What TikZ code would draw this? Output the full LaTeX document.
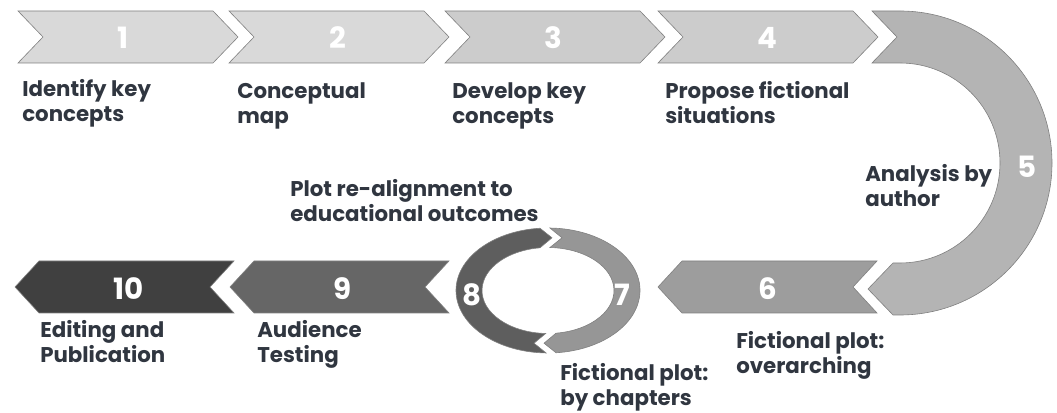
\documentclass[tikz,border=0pt]{standalone}
\usepackage{fontspec}
\setmainfont{Poppins}
\usetikzlibrary{calc}

\definecolor{stepA}{RGB}{217, 217, 217}
\definecolor{stepB}{RGB}{204, 204, 204}
\definecolor{stepC}{RGB}{180, 180, 180}
\definecolor{stepD}{RGB}{157, 157, 157}
\definecolor{stepE}{RGB}{150, 150, 150}
\definecolor{stepF}{RGB}{94, 94, 94}
\definecolor{stepG}{RGB}{102, 102, 102}
\definecolor{stepH}{RGB}{64, 64, 64}
\definecolor{edgegray}{RGB}{128, 128, 128}
\definecolor{labelink}{RGB}{48, 54, 64}

\tikzset{
  chev/.style={draw=edgegray, line width=0.45pt, line join=miter},
  stepnum/.style={font=\fontsize{22}{22}\selectfont\bfseries, text=white, inner sep=0pt},
  % anchored on the baseline of the second line
  steplbl/.style={font=\fontsize{16}{18.75}\selectfont\bfseries, text=labelink,
    align=left, anchor=base west, inner sep=0pt}
}

\begin{document}
\begin{tikzpicture}[x=0.75pt, y=0.75pt]
  \useasboundingbox (0,0) rectangle (1057,413);

  % Top row, pointing right
  \draw[chev, fill=stepA] (18,402) -- (213,402) -- (238,376) -- (213,350) -- (18,350) -- (43,376) -- cycle;
  \draw[chev, fill=stepA] (229,402) -- (424,402) -- (449,376) -- (424,350) -- (229,350) -- (254,376) -- cycle;
  \draw[chev, fill=stepB] (445,402) -- (640,402) -- (665,376) -- (640,350) -- (445,350) -- (470,376) -- cycle;
  \draw[chev, fill=stepB] (658,402) -- (853,402) -- (878,376) -- (853,350) -- (658,350) -- (683,376) -- cycle;

  % Turn at the right end
  \draw[chev, fill=stepC] (872,402) -- (900,402) arc[start angle=90, end angle=-90, radius=152]
    -- (893,98) -- (868,124) -- (893,150) -- (900,150) arc[start angle=-90, end angle=90, radius=100]
    -- (872,350) -- (897,376) -- cycle;

  % Bottom row, pointing left
  \draw[chev, fill=stepD] (658,126) -- (682,152) -- (877,152) -- (853,126) -- (877,100) -- (682,100) -- cycle;
  \draw[chev, fill=stepG] (230,126) -- (254,152) -- (449,152) -- (425,126) -- (449,100) -- (254,100) -- cycle;
  \draw[chev, fill=stepH] (15,126) -- (39,152) -- (234,152) -- (210,126) -- (234,100) -- (39,100) -- cycle;

  % Loop between 7 and 8
  \coordinate (ringc) at (548,122.5);
  \draw[chev, fill=stepF] ($(ringc)+(95:92 and 62.5)$) arc[start angle=95, end angle=268.8, x radius=92, y radius=62.5]
    -- ($(ringc)+(-14,-52.7)$) -- ($(ringc)+(268:66 and 43)$) arc[start angle=268, end angle=97, x radius=66, y radius=43]
    -- ($(ringc)+(4,52.7)$) -- cycle;
  \draw[chev, fill=stepE] ($(ringc)+(88.8:92 and 62.5)$) arc[start angle=88.8, end angle=-85, x radius=92, y radius=62.5]
    -- ($(ringc)+(-4,-52.7)$) -- ($(ringc)+(-83:66 and 43)$) arc[start angle=-83, end angle=88.3, x radius=66, y radius=43]
    -- ($(ringc)+(14,52.7)$) -- cycle;

  % Step numbers
  \node[stepnum] (n1) at (123,375) {1};
  \node[stepnum] (n2) at (338,375) {2};
  \node[stepnum] (n3) at (553,375) {3};
  \node[stepnum] (n4) at (767,375) {4};
  \node[stepnum] (n5) at (1027,246) {5};
  \node[stepnum] (n6) at (768,124) {6};
  \node[stepnum] (n7) at (622,118) {7};
  \node[stepnum] (n8) at (472,118) {8};
  \node[stepnum] (n9) at (343,124) {9};
  \node[stepnum] (n10) at (129,124) {10};

  % Step captions
  \node[steplbl] (l1) at (22,291) {Identify key\\concepts};
  \node[steplbl] (l2) at (237,289) {Conceptual\\map};
  \node[steplbl] (l3) at (452,289) {Develop key\\concepts};
  \node[steplbl] (l4) at (665,289) {Propose fictional\\situations};
  \node[steplbl] (l5) at (865,206) {Analysis by\\author};
  \node[steplbl] (l6) at (736,39) {Fictional plot:\\overarching};
  \node[steplbl] (l7) at (560,7.5) {Fictional plot:\\by chapters};
  \node[steplbl] (l8) at (290,191) {Plot re-alignment to\\educational outcomes};
  \node[steplbl] (l9) at (257,50) {Audience\\Testing};
  \node[steplbl] (l10) at (40,50) {Editing and\\Publication};
\end{tikzpicture}
\end{document}
